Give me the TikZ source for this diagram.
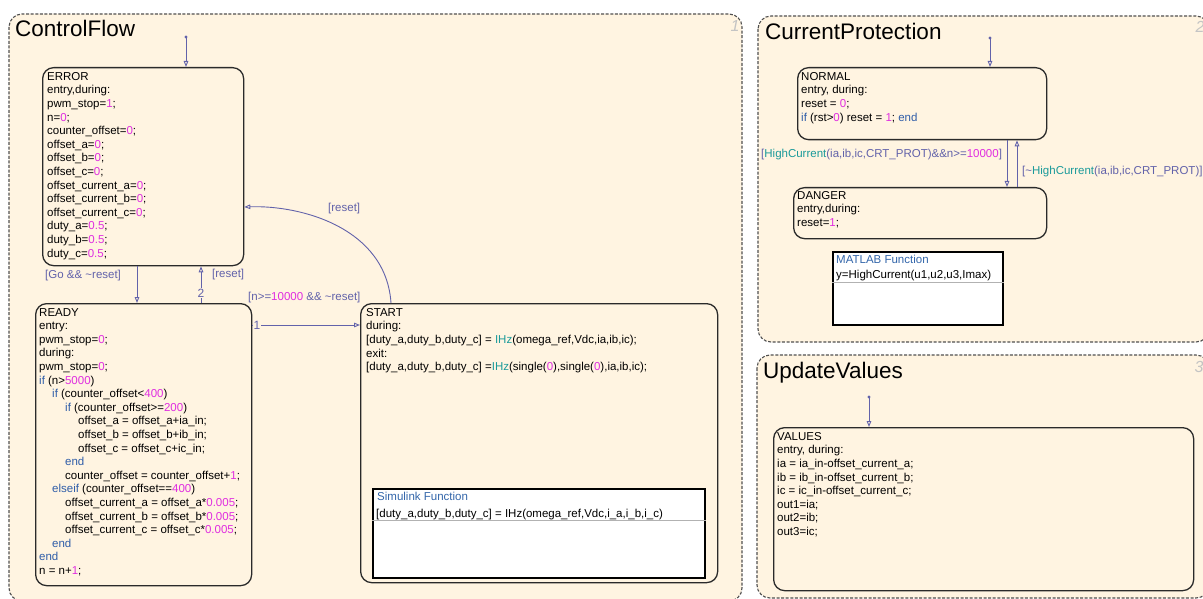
\documentclass[tikz,border=0pt]{standalone}
\usepackage{fontspec}
\setmainfont{Liberation Sans}
\usetikzlibrary{arrows.meta}
\definecolor{panelbg}{HTML}{FFF4E1}
\definecolor{panelln}{HTML}{505050}
\definecolor{stateln}{HTML}{2A2A2A}
\definecolor{transc}{HTML}{6262AA}
\definecolor{mag}{HTML}{E02EE0}
\definecolor{kwc}{HTML}{2F5DA8}
\definecolor{fnc}{HTML}{1A9A9A}
\definecolor{hdrc}{HTML}{3366AA}
\definecolor{numgray}{HTML}{C4C4C4}
\newcommand\nm[1]{\textcolor{mag}{#1}}
\newcommand\kw[1]{\textcolor{kwc}{#1}}
\newcommand\fn[1]{\textcolor{fnc}{#1}}
\newcommand\tabi{\hspace*{13pt}}
\tikzset{
  panel/.style={draw=panelln, fill=panelbg, line width=1.1pt, dash pattern=on 3pt off 1.6pt, rounded corners=13pt},
  statebox/.style={draw=stateln, fill=panelbg, line width=1.3pt, rounded corners=11pt, anchor=north west, inner sep=0pt},
  fnbox/.style={draw=black, fill=white, line width=2pt, anchor=north west, inner sep=0pt},
  code/.style={font=\fontsize{11.5}{13.6}\selectfont, align=left, inner sep=0pt, anchor=north west, text=black},
  title/.style={font=\fontsize{22.5}{26}\selectfont, inner sep=0pt, anchor=base west, text=black},
  cornernum/.style={font=\fontsize{16}{18}\selectfont\itshape, text=numgray, inner sep=0pt},
  tlabel/.style={font=\fontsize{11.5}{13.6}\selectfont, text=transc, inner sep=0pt, anchor=west},
  trans/.style={draw=transc, line width=0.9pt, -{Triangle[open, length=6pt, width=4.6pt]}},
  order/.style={font=\fontsize{12}{14}\selectfont, text=transc, fill=panelbg, inner sep=0.6pt},
}
\begin{document}
\begin{tikzpicture}[x=1pt,y=-1pt]
\useasboundingbox (0,0) rectangle (1203,599);
\clip (0,0) rectangle (1203,599);
\fill[white] (0,0) rectangle (1203,599);

% ---------- panels ----------
\draw[panel] (9,14) rectangle (742,601);
\draw[panel] (758,16) rectangle (1209,342);
\draw[panel] (757,355) rectangle (1209,598);

\node[title] (tcf) at (15,37) {ControlFlow};
\node[title] (tcp) at (765,40) {CurrentProtection};
\node[title] (tuv) at (763,378) {UpdateValues};
\node[cornernum] (n1) at (735,26) {1};
\node[cornernum] (n2) at (1200,27) {2};
\node[cornernum] (n3) at (1199,367) {3};

% ---------- ControlFlow states ----------
\node[statebox, minimum width=201pt, minimum height=198pt] (error) at (42,67) {};
\node[code] (errortxt) at (47,72) {ERROR\\
entry,during:\\
pwm\_stop=\nm{1};\\
n=\nm{0};\\
counter\_offset=\nm{0};\\
offset\_a=\nm{0};\\
offset\_b=\nm{0};\\
offset\_c=\nm{0};\\
offset\_current\_a=\nm{0};\\
offset\_current\_b=\nm{0};\\
offset\_current\_c=\nm{0};\\
duty\_a=\nm{0.5};\\
duty\_b=\nm{0.5};\\
duty\_c=\nm{0.5};};

\node[statebox, minimum width=216pt, minimum height=282pt] (ready) at (35,303) {};
\node[code] (readytxt) at (39,308) {READY\\
entry:\\
pwm\_stop=\nm{0};\\
during:\\
pwm\_stop=\nm{0};\\
\kw{if} (n>\nm{5000})\\
\tabi\kw{if} (counter\_offset<\nm{400})\\
\tabi\tabi\kw{if} (counter\_offset>=\nm{200})\\
\tabi\tabi\tabi offset\_a = offset\_a+ia\_in;\\
\tabi\tabi\tabi offset\_b = offset\_b+ib\_in;\\
\tabi\tabi\tabi offset\_c = offset\_c+ic\_in;\\
\tabi\tabi\kw{end}\\
\tabi\tabi counter\_offset = counter\_offset+\nm{1};\\
\tabi\kw{elseif} (counter\_offset==\nm{400})\\
\tabi\tabi offset\_current\_a = offset\_a*\nm{0.005};\\
\tabi\tabi offset\_current\_b = offset\_b*\nm{0.005};\\
\tabi\tabi offset\_current\_c = offset\_c*\nm{0.005};\\
\tabi\kw{end}\\
\kw{end}\\
n = n+\nm{1};};

\node[statebox, minimum width=357pt, minimum height=279pt] (start) at (360,303) {};
\node[code] (starttxt) at (366,308) {START\\
during:\\
{[}duty\_a,duty\_b,duty\_c] = \fn{IHz}(omega\_ref,Vdc,ia,ib,ic);\\
exit:\\
{[}duty\_a,duty\_b,duty\_c] =\fn{IHz}(single(\nm{0}),single(\nm{0}),ia,ib,ic);};

\node[fnbox, minimum width=332pt, minimum height=89pt] (simfn) at (372,488) {};
\draw[gray!60, line width=0.6pt] ([yshift=-32pt]simfn.north west) -- ([yshift=-32pt]simfn.north east);
\node[code, anchor=base west, text=hdrc] (simhdr) at (377,500) {Simulink Function};
\node[code, anchor=base west] (simsig) at (376,517) {{[}duty\_a,duty\_b,duty\_c] = IHz(omega\_ref,Vdc,i\_a,i\_b,i\_c)};

% ---------- ControlFlow transitions ----------
\coordinate (d1) at (186,37);
\fill[transc] (d1) circle (1.6);
\draw[trans] (d1) -- (d1 |- error.north);

\coordinate (t1) at ([xshift=95pt]error.south west);
\draw[trans] (t1) -- (t1 |- ready.north);
\node[tlabel] (l1) at (45,276) {{[}Go \&\& \textasciitilde reset]};

\coordinate (t2) at ([xshift=166pt]ready.north west);
\draw[trans] (t2) -- (t2 |- error.south);
\node[order] (o2) at (201,293) {2};
\node[tlabel] (l2) at (212,275) {{[}reset]};

\coordinate (t3) at ([yshift=-22pt]ready.north east);
\draw[trans] (t3) -- (t3 -| start.west);
\node[order] (o1) at (257,325) {1};
\node[tlabel] (l3) at (248,298) {{[}n>=\nm{10000} \&\& \textasciitilde reset]};

\coordinate (t4a) at ([xshift=31pt]start.north west);
\coordinate (t4b) at ([yshift=-140pt]error.north east);
\draw[trans] (t4a) .. controls +(-5,-75) and +(57,-2) .. (t4b);
\node[tlabel] (l4) at (328,209) {{[}reset]};

% ---------- CurrentProtection ----------
\node[statebox, minimum width=249pt, minimum height=72pt] (normal) at (797,67) {};
\node[code] (normaltxt) at (801,72) {NORMAL\\
entry, during:\\
reset = \nm{0};\\
\kw{if} (rst>\nm{0}) reset = \nm{1}; \kw{end}};

\node[statebox, minimum width=253pt, minimum height=51pt] (danger) at (793,187) {};
\node[code] (dangertxt) at (797,191) {DANGER\\
entry,during:\\
reset=\nm{1};};

\node[fnbox, minimum width=170pt, minimum height=73pt] (mfn) at (832,251) {};
\draw[gray!60, line width=0.6pt] ([yshift=-31pt]mfn.north west) -- ([yshift=-31pt]mfn.north east);
\node[code, anchor=base west, text=hdrc] (mhdr) at (836,263) {MATLAB Function};
\node[code, anchor=base west] (msig) at (836,278) {y=HighCurrent(u1,u2,u3,Imax)};

\coordinate (d2) at (990,38);
\fill[transc] (d2) circle (1.6);
\draw[trans] (d2) -- (d2 |- normal.north);

\coordinate (t5) at ([xshift=210pt]normal.south west);
\draw[trans] (t5) -- (t5 |- danger.north);
\node[tlabel] (l5) at (761,155) {{[}\fn{HighCurrent}(ia,ib,ic,CRT\_PROT)\&\&n>=\nm{10000}]};

\coordinate (t6) at ([xshift=224pt]danger.north west);
\draw[trans] (t6) -- (t6 |- normal.south);
\node[tlabel] (l6) at (1022,172) {{[}\textasciitilde\fn{HighCurrent}(ia,ib,ic,CRT\_PROT)]};

% ---------- UpdateValues ----------
\node[statebox, minimum width=420pt, minimum height=163pt] (values) at (773,427) {};
\node[code] (valuestxt) at (777,432) {VALUES\\
entry, during:\\
ia = ia\_in-offset\_current\_a;\\
ib = ib\_in-offset\_current\_b;\\
ic = ic\_in-offset\_current\_c;\\
out1=ia;\\
out2=ib;\\
out3=ic;};

\coordinate (d3) at (869,397);
\fill[transc] (d3) circle (1.6);
\draw[trans] (d3) -- (d3 |- values.north);
\end{tikzpicture}
\end{document}
